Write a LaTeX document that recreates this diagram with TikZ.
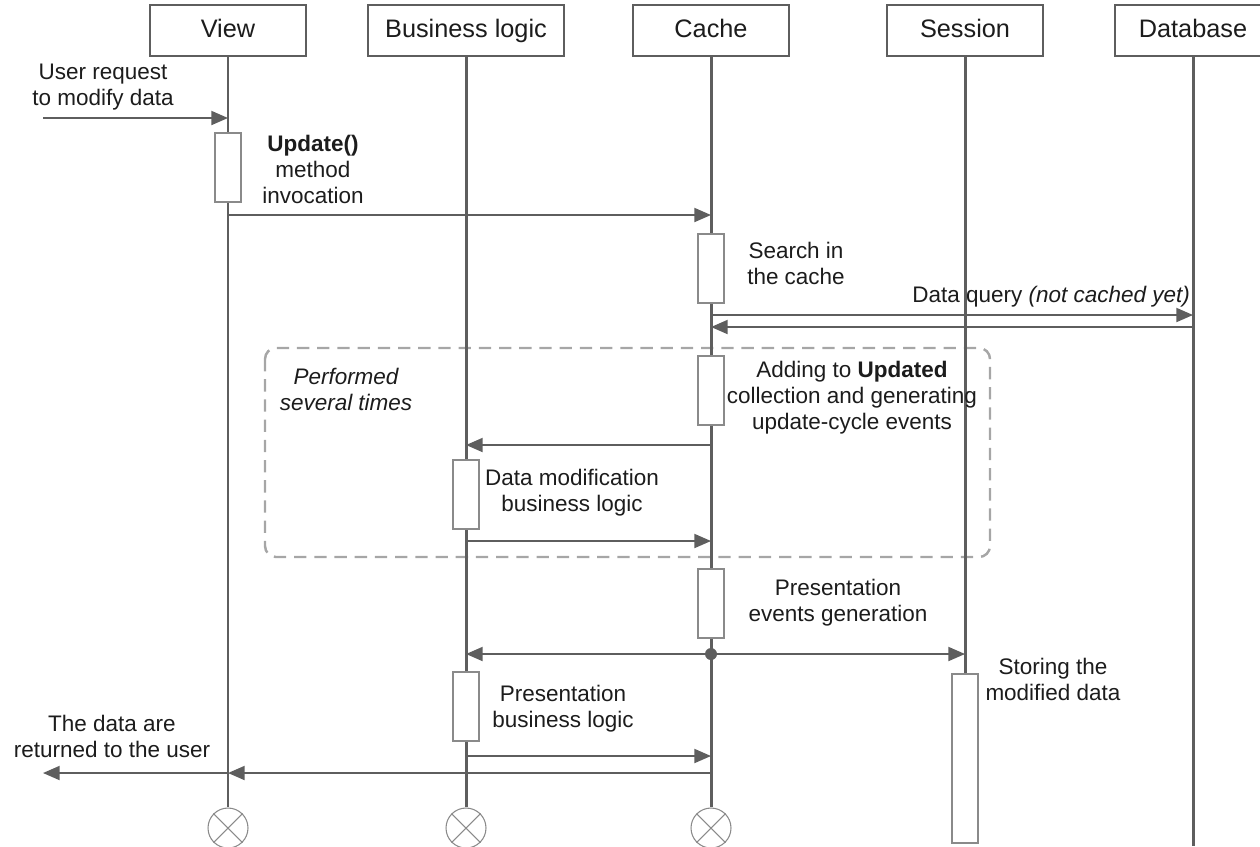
\documentclass[tikz,border=0pt]{standalone}
\usepackage{fontspec}
\setmainfont{Liberation Sans}
\usepackage{xcolor}
\usepackage{tikz}
\usetikzlibrary{shapes,arrows.meta,positioning}
\definecolor{linegray}{HTML}{5E5E5E}
\definecolor{boxgray}{HTML}{8A8A8A}
\definecolor{loopgray}{HTML}{A6A6A6}
\definecolor{textgray}{HTML}{1C1C1C}

\begin{document}
\begin{tikzpicture}[
        x=0.02cm, y=0.02cm, text=textgray,
        font=\fontsize{12.8}{14.8}\selectfont,
        actor/.style={rectangle, draw=linegray, line width=1.6pt, fill=white, minimum width=3.12cm, minimum height=1.02cm, text height=10.5pt, text depth=3pt, font=\fontsize{14.4}{17}\selectfont},
        lifeline/.style={draw=linegray, line width=1.7pt},
        activity/.style={rectangle, draw=boxgray, line width=0.8pt, fill=white, minimum width=0.52cm, minimum height=1.38cm, inner sep=0pt},
        msg/.style={draw=linegray, line width=1pt, -{Triangle[length=9.5pt, width=8pt]}},
        note/.style={align=center},
        forkdot/.style={circle, fill=linegray, minimum size=0.24cm, inner sep=0pt},
        endmark/.style={circle, draw=boxgray, line width=0.6pt, fill=white, minimum size=0.8cm, inner sep=0pt},
        repeatbox/.style={draw=loopgray, line width=1.4pt, dash pattern=on 7pt off 4.5pt, rounded corners=0.22cm}
    ]
        \useasboundingbox (0,0) rectangle (1260,-846);

        \node[actor] (view) at (228,-30.5) {View};
        \node[actor, minimum width=3.92cm] (logic) at (466,-30.5) {Business logic};
        \node[actor] (cache) at (711,-30.5) {Cache};
        \node[actor] (session) at (965,-30.5) {Session};
        \node[actor] (db) at (1193,-30.5) {Database};

        \draw[repeatbox] (265,-348) rectangle (990,-557);

        \foreach \n/\x in {viewend/228, logicend/466, cacheend/711} {
            \node[endmark] (\n) at (\x,-828) {};
            \draw[boxgray, line width=0.6pt] (\n.45) -- (\n.225) (\n.135) -- (\n.315);
        }
        \node[activity, minimum height=3.38cm] (sa) at (session |- 0,-758.5) {};
        \draw[lifeline] (view) -- (viewend);
        \draw[lifeline] (logic) -- (logicend);
        \draw[lifeline] (cache) -- (cacheend);
        \draw[lifeline] (session) -- (sa);
        \draw[lifeline] (db) -- (db |- 0,-846);

        \node[activity] (va) at (view |- 0,-167.5) {};
        \node[activity] (ca1) at (cache |- 0,-268.5) {};
        \node[activity] (ca2) at (cache |- 0,-390.5) {};
        \node[activity] (la1) at (logic |- 0,-494.5) {};
        \node[activity] (ca3) at (cache |- 0,-603.5) {};
        \node[activity] (la2) at (logic |- 0,-706.5) {};

        \coordinate (userin) at (43,-118);
        \coordinate (userout) at (43,-773);
        \draw[msg] (userin) -- (view |- userin);
        \draw[msg] (view |- 0,-215) -- (cache |- 0,-215);
        \draw[msg] (cache |- 0,-315) -- (db |- 0,-315);
        \draw[msg] (db |- 0,-327) -- (cache |- 0,-327);
        \draw[msg] (cache |- 0,-445) -- (logic |- 0,-445);
        \draw[msg] (logic |- 0,-541) -- (cache |- 0,-541);
        \node[forkdot] (fork) at (cache |- 0,-654) {};
        \draw[msg] (fork) -- (logic |- fork);
        \draw[msg] (fork) -- (session |- fork);
        \draw[msg] (logic |- 0,-756) -- (cache |- 0,-756);
        \draw[msg] (cache |- userout) -- (view |- userout);
        \draw[msg] (view |- userout) -- (userout);

        \node[note] (reqtext) at (103,-87) {User request\\to modify data};
        \node[note] (updtext) at (313,-169) {\textbf{Update()}\\method\\invocation};
        \node[note] (searchtext) at (796,-263) {Search in\\the cache};
        \node[anchor=east] (querytext) at (1196,-297) {Data query \textit{(not cached yet)}};
        \node[note, font=\fontsize{12.8}{14.8}\selectfont\itshape] (looptext) at (346,-389) {Performed\\several times};
        \node[note] (addtext) at (852,-398) {Adding to \textbf{Updated}\\collection and generating\\update-cycle events};
        \node[note] (modtext) at (572,-493) {Data modification\\business logic};
        \node[note] (evtext) at (838,-603) {Presentation\\events generation};
        \node[note] (prestext) at (563,-709) {Presentation\\business logic};
        \node[note] (storetext) at (1053,-679) {Storing the\\modified data};
        \node[note] (rettext) at (112,-736) {The data are\\returned to the user};
\end{tikzpicture}
\end{document}
